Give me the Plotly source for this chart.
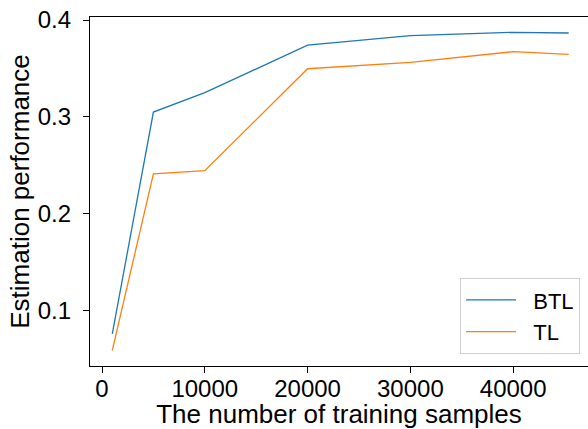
import plotly.graph_objects as go

samples = [1000, 5000, 10000, 20000, 30000, 40000, 45400]
btl = [0.076, 0.305, 0.325, 0.374, 0.3838, 0.3873, 0.3866]
tl = [0.059, 0.2411, 0.2445, 0.3497, 0.3563, 0.3673, 0.3646]
x_ticks = [0, 10000, 20000, 30000, 40000]
y_ticks = [0.1, 0.2, 0.3, 0.4]
series_names = ["BTL", "TL"]

FONT = "Liberation Sans, Arial, Helvetica, sans-serif"
PAD = "\u00a0\u00a0"

fig = go.Figure()
fig.add_trace(go.Scatter(x=samples, y=btl, mode="lines", name=PAD + series_names[0],
                         legendgroup="a", line=dict(color="#1f77b4", width=1.3)))
fig.add_trace(go.Scatter(x=samples, y=tl, mode="lines", name=PAD + series_names[1],
                         legendgroup="b", line=dict(color="#ff7f0e", width=1.3)))

fig.update_layout(
    width=588, height=429,
    margin=dict(l=90, r=0, t=17, b=63, autoexpand=False),
    plot_bgcolor="white", paper_bgcolor="white",
    font=dict(family=FONT, size=24, color="black"),
    showlegend=True,
    legend=dict(x=0.984, y=0.034, xanchor="right", yanchor="bottom",
                bgcolor="white", bordercolor="#d0d0d0", borderwidth=1,
                font=dict(size=22), tracegroupgap=0, itemwidth=50),
)
fig.update_xaxes(
    range=[-1167, 47276], tickvals=x_ticks, ticktext=[str(v) for v in x_ticks],
    showgrid=False, zeroline=False, showline=True, linecolor="black", linewidth=1.2,
    mirror=True, ticks="outside", ticklen=6, tickwidth=1, tickcolor="black",
    automargin=True, tickfont=dict(size=24), ticklabelstandoff=-5,
    title=dict(text="The number of training samples", standoff=12, font=dict(size=26)),
)
fig.update_yaxes(
    range=[0.0429, 0.4031], tickvals=y_ticks, ticktext=[f"{v:.1f}" for v in y_ticks],
    showgrid=False, zeroline=False, showline=True, linecolor="black", linewidth=1.2,
    ticks="outside", ticklen=6, tickwidth=1, tickcolor="black",
    automargin=False, tickfont=dict(size=24), ticklabelstandoff=7,
    title=dict(text="Estimation performance", standoff=0, font=dict(size=26)),
)

fig.write_html("out.html", config={"displayModeBar": False},
               post_script="document.body.style.margin='0';")
